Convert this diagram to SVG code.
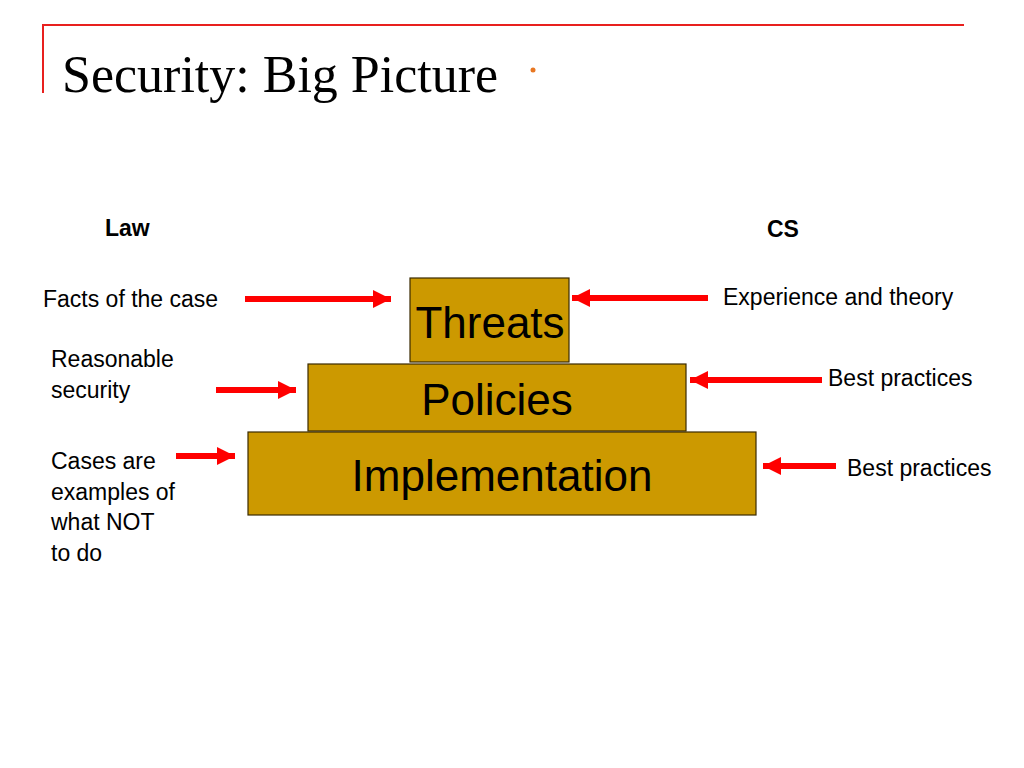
<svg xmlns="http://www.w3.org/2000/svg" width="1024" height="768" viewBox="0 0 1024 768">
<style>
.t{font-family:"Liberation Sans",Arial,sans-serif;fill:#000}
.s{font-size:23px}
.b{font-size:23px;font-weight:bold}
.big{font-size:44px}
.box{fill:#CC9900;stroke:#3a2a00;stroke-width:1.2}
.a{stroke:#FF0000;stroke-width:6;fill:none;marker-end:url(#ah)}
</style>
<defs>
<marker id="ah" markerUnits="userSpaceOnUse" markerWidth="20" markerHeight="20" refX="18" refY="9" orient="auto">
<path d="M0,0 L18,9 L0,18 Z" fill="#FF0000"/>
</marker>
</defs>
<rect width="1024" height="768" fill="#fff"/>
<path d="M964,25 H43 V93" stroke="#E8201E" stroke-width="2" fill="none"/>
<text x="62" y="92" style="font-family:'Liberation Serif','Times New Roman',serif;font-size:52px">Security: Big Picture</text>
<circle cx="533" cy="70" r="2.5" fill="#E87722"/>
<text class="t b" x="105" y="236">Law</text>
<text class="t b" x="767" y="237">CS</text>
<g id="threats"><rect class="box" x="410" y="278" width="159" height="84"/><text class="t big" x="490" y="338" text-anchor="middle">Threats</text></g>
<g id="policies"><rect class="box" x="308" y="364" width="378" height="67"/><text class="t big" x="497" y="415" text-anchor="middle">Policies</text></g>
<g id="implementation"><rect class="box" x="248" y="432" width="508" height="83"/><text class="t big" x="502" y="491" text-anchor="middle">Implementation</text></g>
<g id="labels">
<text class="t s" x="43" y="307">Facts of the case</text>
<text class="t s" x="51" y="367">Reasonable</text>
<text class="t s" x="51" y="398">security</text>
<text class="t s" x="51" y="469">Cases are</text>
<text class="t s" x="51" y="500">examples of</text>
<text class="t s" x="51" y="530">what NOT</text>
<text class="t s" x="51" y="561">to do</text>
<text class="t s" x="723" y="305">Experience and theory</text>
<text class="t s" x="828" y="386">Best practices</text>
<text class="t s" x="847" y="476">Best practices</text>
</g>
<g id="connectors">
<line class="a" x1="245" y1="299" x2="391" y2="299"/>
<line class="a" x1="216" y1="390" x2="296" y2="390"/>
<line class="a" x1="176" y1="456" x2="235" y2="456"/>
<line class="a" x1="708" y1="298" x2="572" y2="298"/>
<line class="a" x1="822" y1="380" x2="690" y2="380"/>
<line class="a" x1="836" y1="466" x2="763" y2="466"/>
</g>
</svg>
